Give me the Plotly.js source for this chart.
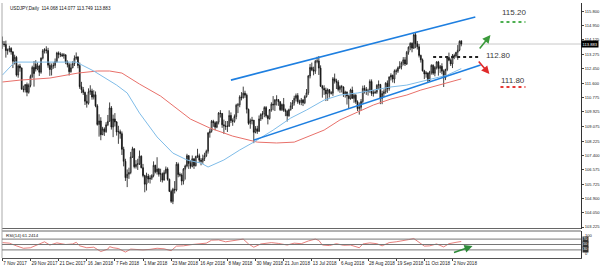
<!DOCTYPE html>
<html><head><meta charset="utf-8">
<script src="https://cdn.plot.ly/plotly-3.0.1.min.js"></script>
<style>html,body{margin:0;padding:0;background:#fff}#chart{width:600px;height:268px}</style>
</head><body><div id="chart"></div>
<script>
// ---- data (USDJPY daily, 7 Nov 2017 .. 9 Nov 2018) ----
const opens = [
114.06,113.88,113.85,113.50,113.53,113.62,113.42,112.88,113.11,112.08,
112.60,112.48,111.25,111.22,111.52,111.07,111.47,112.00,112.52,112.70,
112.43,112.60,112.24,113.06,113.49,113.55,113.50,112.65,112.40,112.60,
112.64,112.86,113.36,113.28,113.26,113.20,113.25,112.84,112.68,112.27,
112.50,112.74,113.05,113.12,112.63,111.40,111.22,111.06,110.55,110.43,
111.10,111.15,110.79,110.93,110.28,109.20,109.40,108.60,108.94,108.78,
109.18,109.38,110.16,109.05,109.52,109.34,108.76,108.78,108.66,107.75,
107.05,106.10,106.30,106.40,107.30,107.78,106.74,106.88,106.90,107.35,
106.68,106.22,105.72,106.19,106.02,106.07,106.22,106.82,106.44,106.60,
106.30,106.33,105.96,106.39,106.60,106.00,105.30,104.72,105.42,105.38,
106.88,106.28,106.25,105.90,106.60,106.78,107.38,106.93,106.76,107.20,
106.80,107.33,107.38,107.12,107.05,107.22,107.38,107.64,108.70,108.80,
109.38,109.30,109.04,109.33,109.86,109.84,109.18,109.12,109.08,109.10,
109.72,109.42,109.38,109.66,110.32,110.34,110.80,110.76,111.02,110.90,
110.08,109.26,109.42,109.45,108.74,108.95,108.80,109.52,109.78,109.82,
110.18,109.70,109.54,110.06,110.38,110.34,110.62,110.64,110.52,110.06,
110.36,110.02,109.96,109.70,110.06,110.28,110.46,110.72,110.88,110.52,
110.48,110.62,110.46,110.82,111.04,112.02,112.52,112.38,112.30,112.88,
112.90,112.48,111.42,111.30,111.20,110.98,111.22,111.04,111.02,111.86,
111.72,111.66,111.24,111.40,111.38,110.98,111.08,110.86,110.70,111.20,
110.72,110.90,110.52,110.12,110.20,110.54,111.30,111.24,111.12,111.18,
111.70,111.00,111.04,111.08,111.48,111.52,110.72,111.00,111.10,111.60,
111.28,111.96,112.06,111.84,112.32,112.30,112.50,112.58,112.78,112.96,
112.72,113.40,113.70,113.92,113.64,114.42,113.90,113.72,113.22,112.96,
112.32,112.14,112.20,111.76,112.24,112.64,112.18,112.52,112.84,112.46,
112.58,112.30,111.92,112.40,113.10,112.94,112.72,113.20,113.18,113.40,
113.52,114.068];
const highs = [
114.32,114.05,114.08,113.62,113.78,113.70,113.47,113.26,113.19,112.69,
112.73,112.52,111.46,111.54,111.64,111.58,112.10,112.62,112.89,112.94,
112.81,112.68,113.10,113.59,113.64,113.75,113.66,112.80,112.75,112.81,
113.04,113.43,113.45,113.40,113.36,113.35,113.28,112.93,112.78,112.75,
112.88,113.22,113.39,113.18,112.80,111.68,111.38,111.11,110.93,111.30,
111.48,111.28,111.19,111.12,110.38,109.79,109.62,109.06,109.03,109.33,
109.75,110.48,110.27,109.77,109.86,109.40,109.12,108.90,108.79,107.90,
107.20,106.58,106.68,107.60,107.90,107.81,107.12,107.20,107.68,107.40,
106.90,106.27,106.39,106.32,106.24,106.30,107.05,106.85,107.29,106.67,
106.62,106.40,106.53,106.75,106.70,106.05,105.40,105.51,105.90,107.01,
106.98,106.40,106.35,106.66,106.86,107.49,107.41,107.12,107.39,107.22,
107.38,107.78,107.50,107.24,107.44,107.55,107.73,108.76,108.95,109.46,
109.47,109.38,109.40,109.92,110.03,109.86,109.48,109.40,109.40,110.02,
109.90,109.55,109.78,110.40,110.45,110.90,111.08,111.40,111.16,111.00,
110.12,109.54,109.64,109.45,109.10,109.12,109.72,109.85,109.98,110.26,
110.27,109.76,110.10,110.49,110.85,110.68,110.90,110.68,110.56,110.42,
110.74,110.12,110.05,110.12,110.50,110.62,110.87,111.00,111.02,110.64,
110.74,110.68,110.90,111.26,112.08,112.72,112.80,112.56,112.96,113.14,
113.18,112.64,111.50,111.48,111.34,111.30,111.26,111.14,111.96,112.16,
111.86,111.78,111.48,111.50,111.42,111.16,111.12,110.92,111.28,111.40,
111.00,110.96,110.60,110.48,110.68,111.46,111.48,111.38,111.28,111.82,
111.82,111.20,111.18,111.54,111.76,111.56,111.16,111.24,111.66,111.76,
112.00,112.18,112.10,112.40,112.44,112.58,112.88,112.86,113.12,113.12,
113.48,113.74,113.98,113.98,114.50,114.55,114.06,113.88,113.26,113.04,
112.38,112.30,112.22,112.32,112.70,112.70,112.60,112.88,112.90,112.66,
112.76,112.40,112.44,113.18,113.38,113.04,113.30,113.32,113.42,113.82,
114.09,114.077];
const lows = [
113.60,113.72,113.09,113.26,113.40,113.26,112.48,112.69,111.99,111.92,
112.27,111.23,111.07,111.06,110.84,110.99,111.36,111.91,111.40,112.28,
112.35,112.02,112.15,112.98,113.33,113.33,112.50,112.03,112.05,112.44,
112.48,112.80,113.05,113.12,113.13,113.03,112.71,112.52,112.05,112.21,
112.47,112.60,112.96,112.47,111.27,111.02,110.92,110.33,110.18,110.35,
110.92,110.64,110.65,110.20,109.13,108.49,108.28,108.58,108.53,108.71,
109.10,109.37,108.90,108.46,109.08,108.55,108.07,108.37,107.42,106.76,
105.91,105.55,106.03,106.30,107.25,106.64,106.63,106.55,106.84,106.64,
106.12,105.25,105.35,105.80,105.76,105.97,106.12,106.35,106.28,106.16,
105.86,105.82,105.93,106.30,105.92,105.26,104.63,104.56,105.18,105.30,
106.12,106.15,105.66,105.70,105.99,106.70,106.61,106.62,106.70,106.61,
106.75,107.24,106.98,106.82,106.90,107.07,107.30,107.50,108.43,108.72,
109.06,108.86,108.98,109.20,109.60,109.00,108.65,108.88,108.76,109.05,
109.28,109.12,109.30,109.50,109.86,110.20,110.60,110.70,110.75,109.84,
109.18,108.95,109.20,108.11,108.68,108.65,108.76,109.40,109.50,109.62,
109.60,109.20,109.48,109.94,110.02,109.98,110.30,110.28,109.98,109.98,
109.93,109.68,109.37,109.65,110.00,110.10,110.30,110.54,110.40,110.35,
110.32,110.27,110.38,110.76,110.92,111.88,112.30,112.06,112.14,112.76,
112.08,111.38,110.76,110.92,110.56,110.58,110.76,110.94,110.86,111.58,
111.26,111.12,111.04,111.06,110.80,110.76,110.36,110.10,110.64,110.68,
110.46,110.40,109.98,109.77,110.00,110.42,111.00,110.92,110.88,111.04,
110.86,110.82,110.98,110.98,111.24,110.38,110.38,110.80,110.98,111.04,
111.16,111.76,111.64,111.60,112.10,112.20,112.42,112.40,112.64,112.60,
112.66,113.26,113.52,113.40,113.60,113.64,113.56,113.10,112.80,112.28,
111.84,111.92,111.62,111.70,112.10,112.08,112.00,112.40,112.04,112.20,
112.12,111.38,111.78,112.30,112.88,112.60,112.48,113.00,113.08,112.96,
113.46,113.749];
const closes = [
113.88,113.85,113.50,113.53,113.62,113.42,112.88,113.11,112.08,112.60,
112.48,111.25,111.22,111.52,111.07,111.47,112.00,112.52,112.16,112.43,
112.60,112.24,113.06,113.49,113.55,113.50,112.65,112.40,112.60,112.64,
112.86,113.36,113.28,113.26,113.20,113.25,112.84,112.68,112.27,112.50,
112.74,113.05,113.12,112.63,111.40,111.22,111.06,110.55,110.43,111.10,
111.15,110.79,110.93,110.28,109.20,109.40,108.60,108.94,108.78,109.18,
109.38,110.16,109.05,109.52,109.34,108.76,108.78,108.66,107.75,107.05,
106.10,106.30,106.40,107.30,107.78,106.74,106.88,106.90,107.35,106.68,
106.22,105.72,106.19,106.02,106.07,106.22,106.82,106.44,106.60,106.30,
106.33,105.96,106.39,106.60,106.00,105.30,104.72,105.42,105.38,106.88,
106.28,106.25,105.90,106.60,106.78,107.38,106.93,106.76,107.20,106.80,
107.33,107.38,107.12,107.05,107.22,107.38,107.64,108.70,108.80,109.38,
109.30,109.04,109.33,109.86,109.84,109.18,109.12,109.08,109.10,109.72,
109.42,109.38,109.66,110.32,110.34,110.80,110.76,111.02,110.90,110.08,
109.26,109.42,109.45,108.74,108.95,108.80,109.52,109.78,109.82,110.18,
109.70,109.54,110.06,110.38,110.34,110.62,110.64,110.52,110.06,110.36,
110.02,109.96,109.70,110.06,110.28,110.46,110.72,110.88,110.52,110.48,
110.62,110.46,110.82,111.04,112.02,112.52,112.38,112.30,112.88,112.90,
112.48,111.42,111.30,111.20,110.98,111.22,111.04,111.02,111.86,111.72,
111.66,111.24,111.40,111.38,110.98,111.08,110.86,110.70,111.20,110.72,
110.90,110.52,110.12,110.20,110.54,111.30,111.24,111.12,111.18,111.70,
111.00,111.04,111.08,111.48,111.52,110.72,111.00,111.10,111.60,111.28,
111.96,112.06,111.84,112.32,112.30,112.50,112.58,112.78,112.96,112.72,
113.40,113.70,113.92,113.64,114.42,113.90,113.72,113.22,112.96,112.32,
112.14,112.20,111.76,112.24,112.64,112.18,112.52,112.84,112.46,112.58,
112.30,111.92,112.40,113.10,112.94,112.72,113.20,113.18,113.40,113.52,
114.04,113.883];

const dateTickBars = [0,16,32,48,64,80,96,112,128,144,160,176,192,208,224,240,256];
const dateTickLabels = ["7 Nov 2017","29 Nov 2017","21 Dec 2017","16 Jan 2018","7 Feb 2018","1 Mar 2018",
  "23 Mar 2018","16 Apr 2018","8 May 2018","30 May 2018","21 Jun 2018","13 Jul 2018","6 Aug 2018",
  "28 Aug 2018","19 Sep 2018","11 Oct 2018","2 Nov 2018"];
const priceTicks = [115.800,114.950,114.125,113.275,112.450,111.600,110.775,109.925,109.075,108.225,
  107.400,106.575,105.725,104.900,104.050,103.225];

const maFastBars = [0,7,24,42,52,65,71,78,88,97,105,113,117,126,135,143,154,164,173,183,192,202,211,221,230,238,253,261];
const maFastVals = [112.07,112.83,112.83,112.83,112.31,111.49,111.03,109.86,108.47,107.53,107.13,106.95,106.72,107.13,
  107.71,108.17,108.87,109.57,110.04,110.62,110.91,111.03,111.20,111.38,111.49,111.68,112.07,112.45];
const maSlowBars = [0,10,27,43,54,61,68,78,90,100,107,118,131,145,156,166,173,183,192,202,211,221,230,238,261];
const maSlowVals = [111.67,111.78,111.90,112.19,112.31,112.31,112.19,111.55,110.85,110.04,109.51,108.99,108.52,108.17,
  108.12,108.17,108.47,108.87,109.46,109.92,110.33,110.68,110.91,111.20,111.85];

const rsiBars = [0,4,8,12,16,20,24,27,31,36,40,42,44,48,52,56,60,61,63,66,70,73,76,80,84,88,92,96,99,103,108,112,116,119,
  123,127,131,135,137,140,143,147,153,157,162,166,170,174,178,180,182,186,190,194,198,203,205,209,213,216,220,224,228,
  231,234,237,240,243,247,251,254,258,261];
const rsiVals = [57,55,45,36,38,48,60,48,56,50,52,58,45,38,40,24,33,42,38,35,22,33,31,30,32,36,34,27,44,45,50,52,55,66,
  67,60,64,68,70,52,40,52,57,54,48,55,53,63,70,65,48,46,53,47,48,38,52,56,53,45,57,60,63,68,72,58,44,45,52,41,53,58,61.24];
const rsiLevels = [70,50,30];
const rsiScaleLabels = ["100","0"];

const channelUpperBars = [130,269], channelUpperVals = [111.78,115.45];
const channelLowerBars = [143,272], channelLowerVals = [108.29,112.66];
const breakoutBars = [245,272], breakoutVals = [113.12,113.12];
const targetTexts = ["115.20","112.80","111.80"];
const lastPrice = 113.883;
const headerText = "USDJPY,Daily  114.068 114.077 113.749 113.883";
const rsiHeader = "RSI(14) 61.2414";

// ---- drawing ----
const bars = closes.map((_, i) => i);
const narrow = "Liberation Sans Narrow, Liberation Sans, Arial, sans-serif";
const tickFont = {family: narrow, size: 4.6, color: "#222"};
const yTickFont = {family: narrow, size: 4.1, color: "#222"};

const traces = [
  {type: "scatter", mode: "lines", x: maSlowBars, y: maSlowVals, line: {color: "#e8706a", width: 1}, hoverinfo: "skip"},
  {type: "scatter", mode: "lines", x: maFastBars, y: maFastVals, line: {color: "#7fbce8", width: 1}, hoverinfo: "skip"},
  {type: "candlestick", x: bars, open: opens, high: highs, low: lows, close: closes,
   increasing: {line: {color: "#111", width: 0.8}, fillcolor: "#ffffff"},
   decreasing: {line: {color: "#111", width: 0.8}, fillcolor: "#111"},
   whiskerwidth: 0, hoverinfo: "skip"},
  {type: "scatter", mode: "lines", x: channelUpperBars, y: channelUpperVals, line: {color: "#1e7fe0", width: 1.6}, hoverinfo: "skip"},
  {type: "scatter", mode: "lines", x: channelLowerBars, y: channelLowerVals, line: {color: "#1e7fe0", width: 1.6}, hoverinfo: "skip"},
  {type: "scatter", mode: "lines", x: breakoutBars, y: breakoutVals, line: {color: "#222", width: 2, dash: "dot"}, hoverinfo: "skip"},
  {type: "scatter", mode: "lines", x: rsiBars, y: rsiVals, yaxis: "y2", line: {color: "#e0605c", width: 0.8}, hoverinfo: "skip"}
];

// plot area spans y = 3 .. 258 px (255 px tall)
const mainBottom = (258 - 228.5) / 255;
const rsiTop = (258 - 231) / 255;

const shapes = [
  {type: "line", xref: "paper", x0: 0, x1: 1, yref: "y", y0: lastPrice, y1: lastPrice, line: {color: "#c8c8c8", width: 1}, layer: "below"},
  {type: "line", xref: "x", x0: 283.3, x1: 297.5, yref: "y", y0: 115.16, y1: 115.16, line: {color: "#4caf50", width: 2, dash: "dot"}},
  {type: "line", xref: "x", x0: 283.3, x1: 297.5, yref: "y", y0: 111.38, y1: 111.38, line: {color: "#e53935", width: 2, dash: "dot"}},
  {type: "line", xref: "paper", x0: 0, x1: 1, yref: "paper", y0: mainBottom, y1: mainBottom, line: {color: "#666", width: 1}},
  {type: "line", xref: "paper", x0: 0, x1: 1, yref: "paper", y0: rsiTop, y1: rsiTop, line: {color: "#666", width: 1}},
  {type: "line", xref: "paper", x0: 0, x1: 0, yref: "paper", y0: 0, y1: 1, line: {color: "#aaa", width: 1}}
].concat(rsiLevels.map(v => ({type: "line", xref: "paper", x0: 0, x1: 1, yref: "y2", y0: v, y1: v, line: {color: "#777", width: 1}})));

const annotations = [
  {xref: "paper", yref: "paper", x: 0.0104, y: 0.997, xanchor: "left", yanchor: "top", showarrow: false,
   text: headerText, font: {family: narrow, size: 4.6, color: "#111"}},
  {xref: "paper", yref: "paper", x: 0.004, y: (258 - 235) / 255, xanchor: "left", yanchor: "middle", showarrow: false,
   text: rsiHeader, font: {family: narrow, size: 4.4, color: "#111"}},
  {x: 291.2, y: 115.71, text: targetTexts[0], showarrow: false, font: {family: "Liberation Sans, Arial", size: 8, color: "#3a3a3a"}},
  {x: 281.8, y: 113.21, text: targetTexts[1], showarrow: false, font: {family: "Liberation Sans, Arial", size: 8, color: "#3a3a3a"}},
  {x: 290.4, y: 111.73, text: targetTexts[2], showarrow: false, font: {family: "Liberation Sans, Arial", size: 8, color: "#3a3a3a"}},
  {x: 277.6, y: 114.40, ax: 270.8, ay: 113.53, axref: "x", ayref: "y", text: "", showarrow: true,
   arrowhead: 2, arrowsize: 1, arrowwidth: 1.6, arrowcolor: "#3c9a3c"},
  {x: 277.0, y: 112.13, ax: 270.2, ay: 112.95, axref: "x", ayref: "y", text: "", showarrow: true,
   arrowhead: 2, arrowsize: 1, arrowwidth: 1.6, arrowcolor: "#e02a2a"},
  {x: 267.4, y: 44, ax: 256, ay: 18, xref: "x", yref: "y2", axref: "x", ayref: "y2", text: "", showarrow: true,
   arrowhead: 2, arrowsize: 1, arrowwidth: 1.6, arrowcolor: "#2e8b3a"},
  {xref: "paper", x: 1, xanchor: "left", yref: "y", y: lastPrice, text: lastPrice.toFixed(3), showarrow: false,
   bgcolor: "#000", borderpad: 0.5, font: {family: narrow, size: 4.1, color: "#fff"}},
  {xref: "paper", x: 1, xanchor: "left", xshift: 2, yref: "y2", y: 100, yanchor: "top", text: rsiScaleLabels[0], showarrow: false,
   font: yTickFont},
  {xref: "paper", x: 1, xanchor: "left", xshift: 2, yref: "y2", y: 0, yanchor: "bottom", text: rsiScaleLabels[1], showarrow: false,
   font: yTickFont}
].concat(rsiLevels.map(v => ({xref: "paper", x: 1, xanchor: "left", xshift: 1, yref: "y2", y: v, text: String(v), showarrow: false,
   bgcolor: "#333", borderpad: 0.3, font: {family: "Liberation Sans, Arial", size: 3.6, color: "#fff"}})));

const layout = {
  width: 600, height: 268,
  margin: {l: 2, r: 19, t: 3, b: 10, pad: 0},
  paper_bgcolor: "#fff", plot_bgcolor: "#fff",
  showlegend: false, dragmode: false,
  xaxis: {anchor: "y2", range: [-0.2, 329.1], tickvals: dateTickBars, ticktext: dateTickLabels, tickangle: 0,
          ticks: "outside", ticklen: 2, tickcolor: "#444", tickfont: tickFont, ticklabelposition: "outside right",
          showgrid: false, zeroline: false, showline: true, linecolor: "#555", rangeslider: {visible: false}},
  yaxis: {domain: [mainBottom, 1], range: [103.14, 116.27], side: "right", anchor: "x",
          tickvals: priceTicks, ticktext: priceTicks.map(v => v.toFixed(3)),
          ticks: "outside", ticklen: 2, tickcolor: "#444", tickfont: yTickFont,
          showgrid: false, zeroline: false, showline: true, linecolor: "#333"},
  yaxis2: {domain: [0, rsiTop], range: [0, 100], side: "right", anchor: "x",
           showticklabels: false, ticks: "",
           showgrid: false, zeroline: false, showline: true, linecolor: "#333"},
  shapes: shapes, annotations: annotations
};

Plotly.newPlot("chart", traces, layout, {staticPlot: true, displayModeBar: false});
</script></body></html>
